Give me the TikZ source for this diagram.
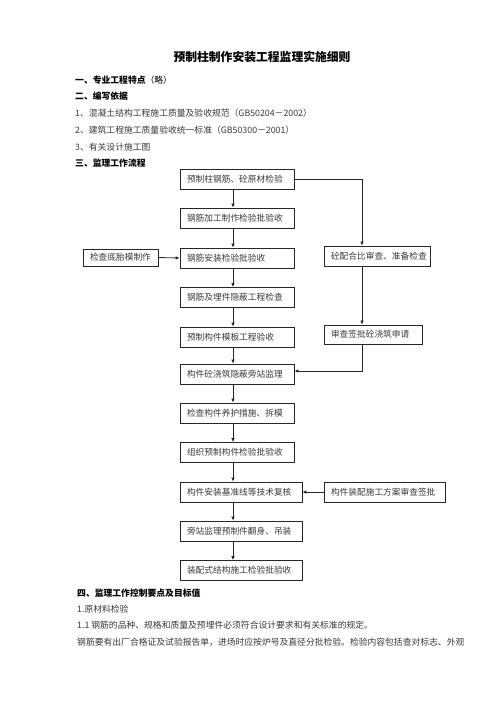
\documentclass[tikz,border=0pt]{standalone}
\usepackage{fontspec}
\setmainfont{Noto Sans CJK SC}
\usetikzlibrary{arrows.meta}
\definecolor{txt}{rgb}{0.22,0.22,0.22}
\begin{document}
\begin{tikzpicture}[x=1pt,y=-1pt,
  box/.style={draw=black!85,line width=0.8pt,minimum height=20pt,inner xsep=7pt,inner ysep=0pt,align=left,font=\fontsize{8.7}{10}\selectfont,text=txt},
  line/.style={draw=black!85,line width=0.8pt},
  arr/.style={line,-{Latex[length=4pt,width=3.6pt]}},
  head/.style={anchor=west,inner sep=0pt,font=\fontsize{8.8}{10}\selectfont\bfseries},
  body/.style={anchor=west,inner sep=0pt,font=\fontsize{8.8}{10}\selectfont,text=txt}]
\useasboundingbox (0,0) rectangle (500,707);
% texts
\node[inner sep=0pt,font=\fontsize{11.8}{13}\selectfont\bfseries] (title) at (262,57) {预制柱制作安装工程监理实施细则};
\node[head] (h1) at (75,80) {一、专业工程特点\textmd{（略）}};
\node[head] (h2) at (75,96) {二、编写依据};
\node[body] (t1) at (75,113) {1、混凝土结构工程施工质量及验收规范（GB50204－2002）};
\node[body] (t2) at (75,130) {2、建筑工程施工质量验收统一标准（GB50300－2001）};
\node[body] (t3) at (75,147) {3、有关设计施工图};
\node[head] (h3) at (75,163) {三、监理工作流程};
\node[head] (h4) at (77,593) {四、监理工作控制要点及目标值};
\node[body] (t4) at (77,609) {1.原材料检验};
\node[body] (t5) at (77,625) {1.1 钢筋的品种、规格和质量及预埋件必须符合设计要求和有关标准的规定。};
\node[body] (t6) at (77,642) {钢筋要有出厂合格证及试验报告单，进场时应按炉号及直径分批检验。检验内容包括查对标志、外观};
% boxes
\node[box,text width=100pt] (b1) at (237,179) {预制柱钢筋、砼原材检验};
\node[box,text width=100pt] (b2) at (237,218) {钢筋加工制作检验批验收};
\node[box,text width=100pt] (b3) at (237,258) {钢筋安装检验批验收};
\node[box,text width=100pt] (b4) at (237,297.5) {钢筋及埋件隐蔽工程检查};
\node[box,text width=100pt] (b5) at (237,337) {预制构件模板工程验收};
\node[box,text width=100pt] (b6) at (237,374) {构件砼浇筑隐蔽旁站监理};
\node[box,text width=100pt] (b7) at (237,413) {检查构件养护措施、拆模};
\node[box,text width=100pt] (b8) at (237,452.5) {组织预制构件检验批验收};
\node[box,text width=108pt] (b9) at (241,492) {构件安装基准线等技术复核};
\node[box,text width=108pt] (b10) at (241,531) {旁站监理预制件翻身、吊装};
\node[box,text width=108pt] (b11) at (241,570.5) {装配式结构施工检验批验收};
\node[box,text width=92pt] (r1) at (377,256) {砼配合比审查、准备检查};
\node[box,text width=84pt,minimum height=19pt] (r2) at (373,334.5) {审查签批砼浇筑申请};
\node[box,text width=107pt] (r3) at (384.5,492) {构件装配施工方案审查签批};
\node[box,text width=61pt,minimum height=17pt] (l1) at (120.5,257.5) {检查底胎模制作};
% connectors
\coordinate (col) at (233,0);
\coordinate (rc) at (362,0);
\coordinate (j) at (362,371);
\foreach \a/\b in {b1/b2,b2/b3,b3/b4,b4/b5,b5/b6,b6/b7,b7/b8,b8/b9,b9/b10,b10/b11}
  \draw[arr] (\a.south -| col) -- (\b.north -| col);
\draw[arr] (b1.east) -| (r1.north -| rc);
\draw[arr] (r1.south -| rc) -- (r2.north -| rc);
\draw[arr] (r2.south -| rc) -- (j) -- (j -| b6.east);
\draw[arr] (r3.west) -- (b9.east);
\draw[arr] (l1.east) -- (b3.west);
\end{tikzpicture}
\end{document}
